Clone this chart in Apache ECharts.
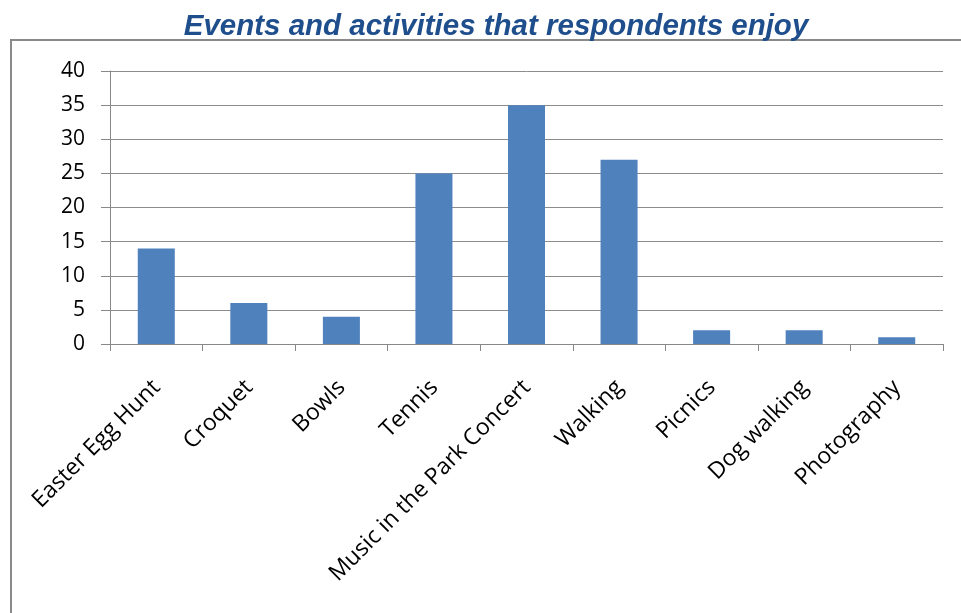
<!DOCTYPE html>
<html>
<head>
<meta charset="utf-8">
<script src="https://cdn.jsdelivr.net/npm/echarts@6/dist/echarts.min.js"></script>
<style>
  html, body { margin: 0; padding: 0; background: #fff; }
  #chart { width: 961px; height: 613px; }
</style>
</head>
<body>
<div id="chart"></div>
<script>
// data
const categories = ['Easter Egg Hunt', 'Croquet', 'Bowls', 'Tennis', 'Music in the Park Concert',
  'Walking', 'Picnics', 'Dog walking', 'Photography']
const counts = [14, 6, 4, 25, 35, 27, 2, 2, 1]
const yTicks = [0, 5, 10, 15, 20, 25, 30, 35, 40]

const chart = echarts.init(document.getElementById('chart'))

const option = {
  backgroundColor: '#fff',
  animation: false,
  title: {
    text: 'Events and activities that respondents enjoy',
    left: 491,
    textAlign: 'center',
    top: 7,
    textStyle: {
      fontFamily: 'Liberation Sans',
      fontSize: 29.5,
      fontWeight: 'bold',
      fontStyle: 'italic',
      color: '#1F4E8C'
    }
  },
  // outer frame of the chart area
  graphic: [{
    type: 'rect',
    shape: { x: 11, y: 40, width: 980, height: 620 },
    style: { fill: 'none', stroke: '#8a8a8a', lineWidth: 2 },
    silent: true
  }],
  grid: {
    left: 110,
    right: 18,
    top: 71,
    bottom: 269
  },
  xAxis: {
    type: 'category',
    data: categories,
    axisLine: { lineStyle: { color: '#888', width: 1 } },
    axisTick: { show: true, length: 7, lineStyle: { color: '#888' } },
    axisLabel: {
      interval: 0,
      rotate: 45,
      margin: 24,
      verticalAlign: 'top',
      padding: [0, 11, 0, 0],
      fontFamily: 'Open Sans',
      fontSize: 23,
      color: '#000'
    }
  },
  yAxis: {
    type: 'value',
    min: yTicks[0],
    max: yTicks[yTicks.length - 1],
    interval: 5,
    axisLine: { show: true, lineStyle: { color: '#888', width: 1 } },
    axisTick: { show: true, length: 9, lineStyle: { color: '#888' } },
    axisLabel: {
      margin: 25,
      fontFamily: 'Open Sans',
      fontSize: 21,
      color: '#000'
    },
    splitLine: { lineStyle: { color: '#8c8c8c', width: 1 } }
  },
  series: [{
    type: 'bar',
    data: counts,
    barWidth: '40%',
    itemStyle: { color: '#4F81BD' }
  }]
}

chart.setOption(option)
</script>
</body>
</html>
